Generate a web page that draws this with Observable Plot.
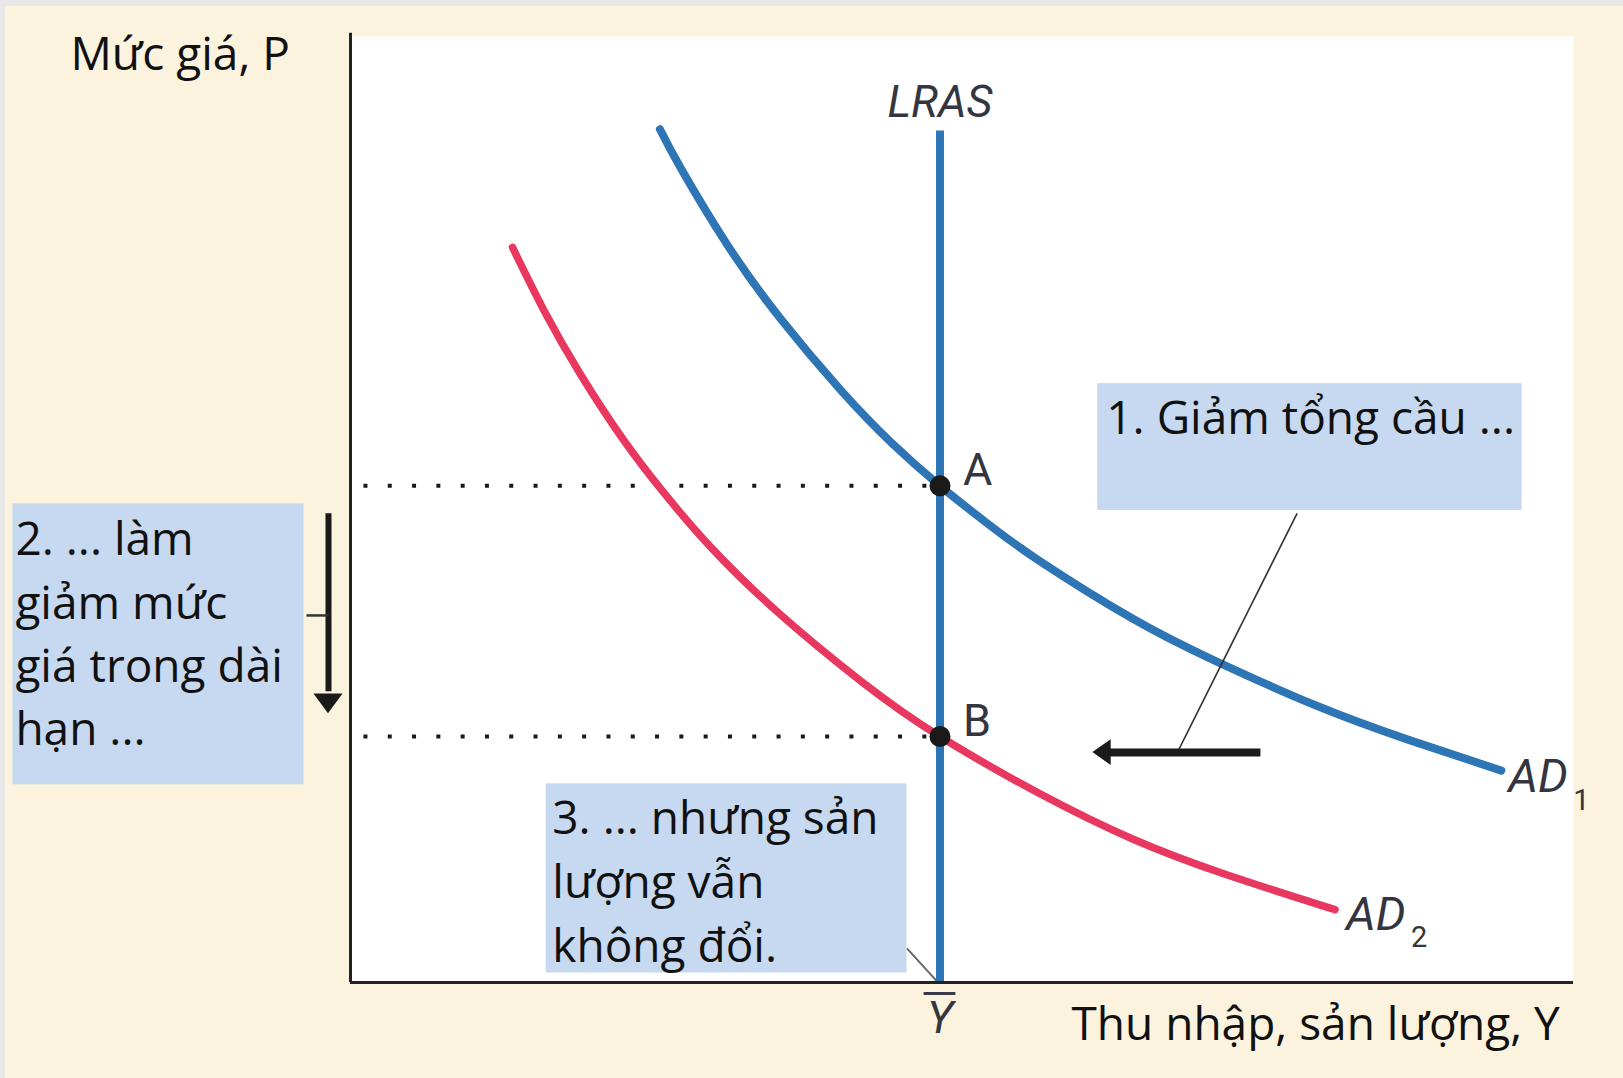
<!DOCTYPE html>
<html>
<head>
<meta charset="utf-8">
<script src="https://cdn.jsdelivr.net/npm/d3@7"></script>
<script src="https://cdn.jsdelivr.net/npm/@observablehq/plot@0.6"></script>
<style>
html, body { margin: 0; padding: 0; width: 1623px; height: 1078px; overflow: hidden; background: #e8e8e8; }
#page { position: absolute; left: 5px; top: 6px; width: 1618px; height: 1072px; background: #fcf3df; overflow: hidden; }
#chart { position: absolute; left: -5px; top: -6px; width: 1623px; height: 1078px; }
#chart svg { max-width: none !important; display: block; }
</style>
</head>
<body>
<div id="page"><div id="chart"></div></div>
<script>
// ---------------- DATA ----------------
// Long-run aggregate supply: vertical at natural output Ȳ
const lrasOutput = 48.2;
const lrasTopPrice = 90;

// Equilibrium points
const pointLabels = ["A", "B"];
const pointPrices = [52.5, 26.0];

// Aggregate demand curves (output Y, price level P)
const ad1Output = [25.3, 27.0, 30.8, 35.2, 40.1, 44.2, 48.2, 52.2, 56.3, 63.9, 70.7, 78.9, 86.4, 94.1];
const ad1Price  = [90.2, 86.1, 78.0, 70.1, 62.6, 57.1, 52.5, 48.4, 44.6, 38.5, 34.0, 29.3, 25.7, 22.4];
const ad2Output = [13.25, 15.8, 18.8, 22.3, 25.6, 29.4, 34.8, 41.8, 48.2, 56.3, 63.9, 71.4, 80.5];
const ad2Price  = [77.7, 71.1, 64.3, 57.4, 51.8, 46.1, 39.3, 31.8, 26.0, 20.0, 15.2, 11.5, 7.7];

const curveNames = ["AD", "AD"];
const curveSubscripts = ["1", "2"];

// Texts
const yTitle = "Mức giá, P";
const xTitle = "Thu nhập, sản lượng, Y";
const lrasLabel = "LRAS";
const yBarLabel = "Y";
const note1 = "1. Giảm tổng cầu ...";
const note2 = "2. ... làm\ngiảm mức\ngiá trong dài\nhạn ...";
const note3 = "3. ... nhưng sản\nlượng vẫn\nkhông đổi.";

// ---------------- BUILD ----------------
const blue = "#2e75b6";
const red = "#e93860";
const ink = "#1a1a1a";
const labelInk = "#35353f";
const boxFill = "#c6d9f0";
const textFont = "'Open Sans', 'Noto Sans', sans-serif";
const labelFont = "Roboto, 'Liberation Sans', sans-serif";

const ad1 = ad1Output.map((x, i) => ({x, y: ad1Price[i]}));
const ad2 = ad2Output.map((x, i) => ({x, y: ad2Price[i]}));
const points = pointLabels.map((label, i) => ({label, x: lrasOutput, y: pointPrices[i]}));
const curveEnds = [
  {name: curveNames[0], sub: curveSubscripts[0], ...ad1[ad1.length - 1], dx: 7, dy: 21, sdx: 72, sdy: 39},
  {name: curveNames[1], sub: curveSubscripts[1], ...ad2[ad2.length - 1], dx: 11, dy: 20, sdx: 76, sdy: 37}
];

// annotation layout (in the chart's own data units)
const boxes = [
  {x1: 61.1, x2: 95.8, y1: 49.9, y2: 63.3},
  {x1: -27.6, x2: -3.8, y1: 20.9, y2: 50.6},
  {x1: 16.0, x2: 45.5, y1: 1.0, y2: 21.0}
];
const notes = [
  {text: note1, x: 61.8, y: 58.0, anchor: "bottom", lh: 1},
  {text: note2, x: -27.4, y: 49.95, anchor: "top", lh: 1.38},
  {text: note3, x: 16.5, y: 20.45, anchor: "top", lh: 1.39}
];

// shift arrow (AD1 -> AD2) and price-fall arrow
const shift = {y: 24.3, from: 74.4, tip: 60.7, headBase: 62.2, half: 1.37};
const fall = {x: -1.8, from: 49.6, tip: 28.4, headBase: 30.5, half: 1.19};

const chart = Plot.plot({
  width: 1623,
  height: 1078,
  marginLeft: 350,
  marginRight: 50,
  marginTop: 36,
  marginBottom: 96,
  style: {background: "transparent", maxWidth: "none", overflow: "visible"},
  x: {domain: [0, 100], axis: null},
  y: {domain: [0, 100], axis: null},
  marks: [
    Plot.frame({fill: "white", stroke: null}),
    // annotation boxes
    Plot.rect(boxes, {x1: "x1", x2: "x2", y1: "y1", y2: "y2", fill: boxFill}),
    // dotted guides from equilibria to the price axis
    Plot.ruleY(pointPrices, {x1: 1.1, x2: lrasOutput, stroke: ink, strokeWidth: 4, strokeDasharray: "4,20.3"}),
    // LRAS
    Plot.ruleX([lrasOutput], {y1: 0, y2: lrasTopPrice, stroke: blue, strokeWidth: 8}),
    // AD curves
    Plot.line(ad1, {x: "x", y: "y", stroke: blue, strokeWidth: 8, curve: "natural"}),
    Plot.line(ad2, {x: "x", y: "y", stroke: red, strokeWidth: 7.5, curve: "natural"}),
    // axes
    Plot.ruleX([0], {y1: 0, y2: 100.35, stroke: "#222", strokeWidth: 3}),
    Plot.ruleY([0], {stroke: "#222", strokeWidth: 3}),
    // leader lines
    Plot.link([{x1: 77.4, y1: 49.6, x2: 67.6, y2: 24.3}], {x1: "x1", y1: "y1", x2: "x2", y2: "y2", stroke: "#333", strokeWidth: 1.6}),
    Plot.link([{x1: 45.5, y1: 3.6, x2: 47.9, y2: 0.2}], {x1: "x1", y1: "y1", x2: "x2", y2: "y2", stroke: "#666", strokeWidth: 2}),
    // shift arrow
    Plot.link([shift], {x1: "from", x2: (d) => d.headBase - 0.3, y1: "y", y2: "y", stroke: ink, strokeWidth: 8}),
    Plot.areaY([{x: shift.tip, y1: shift.y, y2: shift.y}, {x: shift.headBase, y1: shift.y - shift.half, y2: shift.y + shift.half}],
      {x: "x", y1: "y1", y2: "y2", fill: ink}),
    // price-fall arrow
    Plot.link([fall], {x1: "x", x2: "x", y1: "from", y2: (d) => d.headBase + 0.3, stroke: ink, strokeWidth: 6}),
    Plot.areaX([{y: fall.tip, x1: fall.x, x2: fall.x}, {y: fall.headBase, x1: fall.x - fall.half, x2: fall.x + fall.half}],
      {y: "y", x1: "x1", x2: "x2", fill: ink}),
    Plot.link([{x1: -3.6, x2: fall.x, y: 38.8}], {x1: "x1", x2: "x2", y1: "y", y2: "y", stroke: "#333", strokeWidth: 2.5}),
    // equilibrium dots
    Plot.dot(points, {x: "x", y: "y", r: 10.5, fill: ink, stroke: null}),
    Plot.text(points, {x: "x", y: "y", text: "label", dx: 23, dy: -0.5, textAnchor: "start", lineAnchor: "bottom",
      fontSize: 45, fontFamily: labelFont, fill: labelInk}),
    // curve labels
    ...curveEnds.map((d) => Plot.text([d], {x: "x", y: "y", text: "name", dx: d.dx, dy: d.dy, textAnchor: "start", lineAnchor: "bottom",
      fontSize: 47, fontStyle: "italic", fontFamily: labelFont, fill: labelInk})),
    ...curveEnds.map((d) => Plot.text([d], {x: "x", y: "y", text: "sub", dx: d.sdx, dy: d.sdy, textAnchor: "start", lineAnchor: "bottom",
      fontSize: 29, fontFamily: labelFont, fill: labelInk})),
    // LRAS label
    Plot.text([lrasLabel], {x: lrasOutput, y: 91.44, text: (d) => d, textAnchor: "middle", lineAnchor: "bottom",
      fontSize: 45, fontStyle: "italic", fontFamily: labelFont, fill: labelInk}),
    // Ȳ label under the axis
    Plot.ruleY([-1.16], {x1: lrasOutput - 1.3, x2: lrasOutput + 1.3, stroke: "#3a3a48", strokeWidth: 3}),
    Plot.text([yBarLabel], {x: lrasOutput, y: -5.39, text: (d) => d, textAnchor: "middle", lineAnchor: "bottom",
      fontSize: 45, fontStyle: "italic", fontFamily: labelFont, fill: labelInk}),
    // axis titles
    Plot.text([yTitle], {x: -22.9, y: 96.5, text: (d) => d, textAnchor: "start", lineAnchor: "bottom",
      fontSize: 46, fontFamily: textFont, fill: "#111"}),
    Plot.text([xTitle], {x: 58.95, y: -6.13, text: (d) => d, textAnchor: "start", lineAnchor: "bottom",
      fontSize: 46, fontFamily: textFont, fill: "#111"}),
    // annotation notes
    ...notes.map((n) => Plot.text([n], {x: "x", y: "y", text: "text", textAnchor: "start", lineAnchor: n.anchor,
      lineHeight: n.lh, fontSize: 46, fontFamily: textFont, fill: "#111"}))
  ]
});

document.getElementById("chart").appendChild(chart);
</script>
</body>
</html>
